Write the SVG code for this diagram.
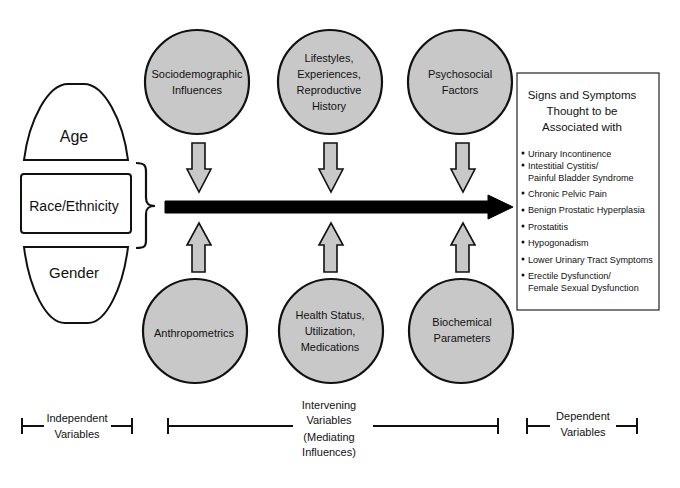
<svg xmlns="http://www.w3.org/2000/svg" width="680" height="488" viewBox="0 0 680 488">
<style>
text{font-family:"Liberation Sans",Arial,sans-serif;fill:#111;text-anchor:middle}
.c{fill:#c8c8c8;stroke:#111;stroke-width:2.2}
.a{fill:#c8c8c8;stroke:#111;stroke-width:1.6;stroke-linejoin:miter}
.s{fill:#fff;stroke:#111;stroke-width:2}
.ct{font-size:11px}
.hd{font-size:11.5px}
.li{font-size:9.1px;text-anchor:start}
.bt{font-size:11px}
.ln{fill:none;stroke:#111;stroke-width:2}
</style>
<rect width="680" height="488" fill="#fff"/>
<g id="age"><path class="s" d="M24,160 C29,120 48,84 68,84 L84,84 C104,84 123,120 128,160 Z"/><text x="74" y="142" font-size="16">Age</text></g>
<g id="race"><rect class="s" x="21" y="174" width="110" height="59" rx="3"/><text x="74" y="211" font-size="14">Race/Ethnicity</text></g>
<g id="gender"><path class="s" d="M24,247 L128,247 C123,288 106,323 88,323 L65,323 C46,323 29,288 24,247 Z"/><text x="74" y="278" font-size="15">Gender</text></g>
<g id="n_socio"><circle class="c" cx="197" cy="82" r="52"/><text class="ct" x="197" y="78">Sociodemographic</text><text class="ct" x="197" y="94">Influences</text></g>
<g id="n_life"><circle class="c" cx="330" cy="82" r="52"/><text class="ct" x="329" y="62">Lifestyles,</text><text class="ct" x="329" y="78">Experiences,</text><text class="ct" x="329" y="94">Reproductive</text><text class="ct" x="329" y="110">History</text></g>
<g id="n_psych"><circle class="c" cx="460" cy="82" r="52"/><text class="ct" x="460" y="78">Psychosocial</text><text class="ct" x="460" y="94">Factors</text></g>
<g id="n_anthro"><circle class="c" cx="195" cy="331" r="52"/><text class="ct" x="194" y="337">Anthropometrics</text></g>
<g id="n_health"><circle class="c" cx="331" cy="331" r="52"/><text class="ct" x="330" y="319">Health Status,</text><text class="ct" x="330" y="335">Utilization,</text><text class="ct" x="330" y="351">Medications</text></g>
<g id="n_bio"><circle class="c" cx="461" cy="331" r="52"/><text class="ct" x="462" y="326">Biochemical</text><text class="ct" x="462" y="342">Parameters</text></g>
<g id="outcomes"><rect x="517" y="73" width="142" height="237" fill="#fff" stroke="#222" stroke-width="1.2"/>
<text class="hd" x="582" y="99">Signs and Symptoms</text><text class="hd" x="582" y="115">Thought to be</text><text class="hd" x="582" y="131">Associated with</text>
<g fill="#111"><circle cx="523" cy="153" r="1.5"/><circle cx="523" cy="165" r="1.5"/><circle cx="523" cy="193" r="1.5"/><circle cx="523" cy="210" r="1.5"/><circle cx="523" cy="226" r="1.5"/><circle cx="523" cy="242" r="1.5"/><circle cx="523" cy="259" r="1.5"/><circle cx="523" cy="275" r="1.5"/></g>
<text class="li" x="528" y="156.5">Urinary Incontinence</text>
<text class="li" x="528" y="168.5">Intestitial Cystitis/</text>
<text class="li" x="528" y="180.5">Painful Bladder Syndrome</text>
<text class="li" x="528" y="196.5">Chronic Pelvic Pain</text>
<text class="li" x="528" y="212.5">Benign Prostatic Hyperplasia</text>
<text class="li" x="528" y="229.5">Prostatitis</text>
<text class="li" x="528" y="245.5">Hypogonadism</text>
<text class="li" x="528" y="262.5">Lower Urinary Tract Symptoms</text>
<text class="li" x="528" y="278.5">Erectile Dysfunction/</text>
<text class="li" x="528" y="290.5">Female Sexual Dysfunction</text>
</g>
<g id="connectors">
<path d="M136,163 C145,163 146,166 146,172 L146,198 C146,204 149,206 155,206 C149,206 146,208 146,214 L146,240 C146,246 145,248 136,248" fill="none" stroke="#111" stroke-width="2.2"/>
<path d="M165,201 L488,201 L488,195 L513,207 L488,219 L488,213 L165,213 Z" fill="#000" stroke="#000" stroke-width="1"/>
<path class="a" d="M192,143 L205,143 L205,169 L211,169 L199,192 L187,169 L192,169 Z"/>
<path class="a" d="M324,143 L337,143 L337,169 L343,169 L331,192 L319,169 L324,169 Z"/>
<path class="a" d="M456,143 L469,143 L469,169 L475,169 L463,192 L451,169 L456,169 Z"/>
<path class="a" d="M192,272 L205,272 L205,245 L211,245 L199,223 L187,245 L192,245 Z"/>
<path class="a" d="M324,272 L337,272 L337,245 L343,245 L331,223 L319,245 L324,245 Z"/>
<path class="a" d="M456,272 L469,272 L469,245 L475,245 L463,223 L451,245 L456,245 Z"/>
</g>
<g id="scale_independent"><path class="ln" d="M22,418 V434 M22,426 H44 M111,426 H132 M132,418 V434"/><text class="bt" x="77" y="422">Independent</text><text class="bt" x="77" y="438">Variables</text></g>
<g id="scale_intervening"><path class="ln" d="M168,418 V434 M168,426 H293 M373,426 H498 M498,418 V434"/><text class="bt" x="329" y="409">Intervening</text><text class="bt" x="329" y="424">Variables</text><text class="bt" x="329" y="441">(Mediating</text><text class="bt" x="329" y="456">Influences)</text></g>
<g id="scale_dependent"><path class="ln" d="M527,418 V434 M527,426 H550 M616,426 H637 M637,418 V434"/><text class="bt" x="583" y="420">Dependent</text><text class="bt" x="583" y="436">Variables</text></g>
</svg>
